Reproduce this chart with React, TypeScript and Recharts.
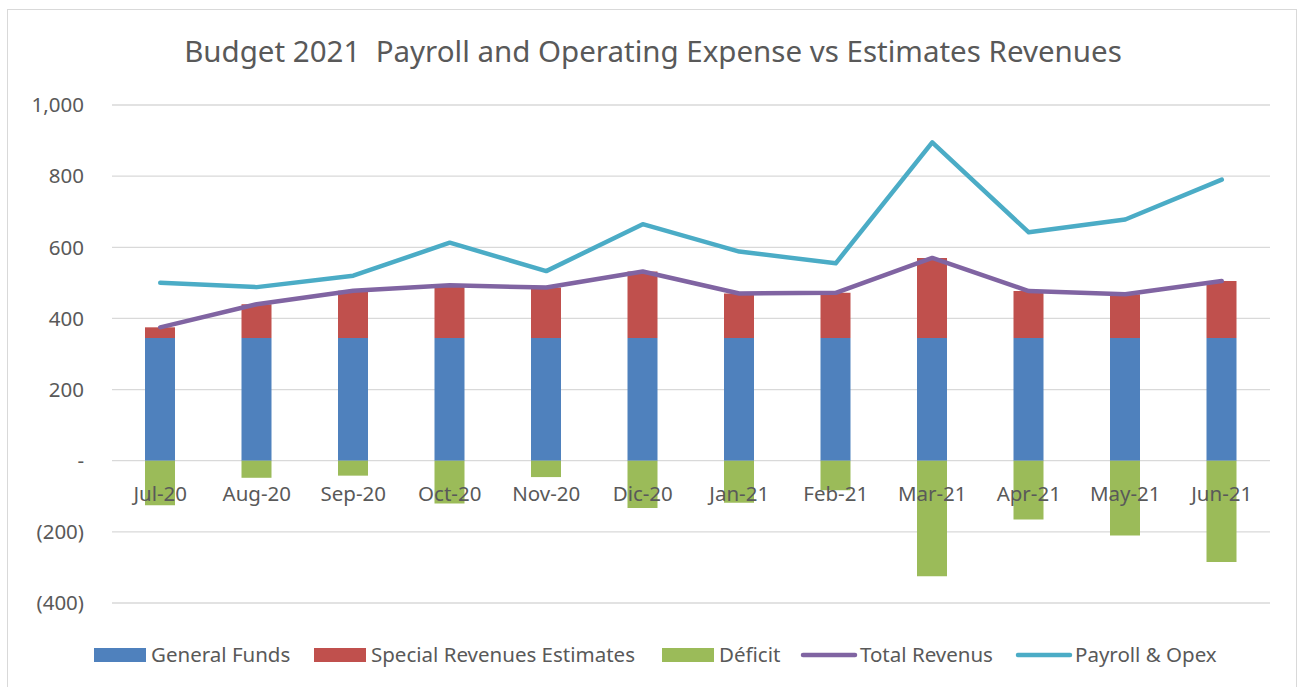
import React from "react";
import {
  ComposedChart,
  Bar,
  Line,
  XAxis,
  YAxis,
  CartesianGrid,
  Legend,
} from "recharts";

const months = ["Jul-20", "Aug-20", "Sep-20", "Oct-20", "Nov-20", "Dic-20", "Jan-21", "Feb-21", "Mar-21", "Apr-21", "May-21", "Jun-21"];
const generalFunds = [345, 345, 345, 345, 345, 345, 345, 345, 345, 345, 345, 345];
const specialRevenues = [30, 95, 133, 148, 142, 187, 125, 127, 225, 132, 123, 160];
const totalRevenue = [375, 440, 478, 493, 487, 532, 470, 472, 570, 477, 468, 505];
const payrollOpex = [500, 488, 520, 613, 533, 665, 588, 555, 895, 642, 678, 790];
const deficit = [-125, -48, -42, -120, -46, -133, -118, -83, -325, -165, -210, -285];
const yTicks = [-400, -200, 0, 200, 400, 600, 800, 1000];
const legendOrder = ["General Funds", "Special Revenues Estimates", "Déficit", "Total Revenus", "Payroll & Opex"];

const data = months.map((m, i) => ({
  month: m,
  general: generalFunds[i],
  special: specialRevenues[i],
  deficit: deficit[i],
  total: totalRevenue[i],
  payroll: payrollOpex[i],
}));

const FONT = "'Noto Sans', 'Open Sans', sans-serif";
const TEXT = "#595959";
const FS = 20.5;

const fmtY = (v: number) => {
  if (v === 0) return "-";
  const s = Math.abs(v).toLocaleString("en-US");
  return v < 0 ? `(${s})` : s;
};

const CatTick = (props: any) => {
  const { x, y, payload } = props;
  return (
    <text x={x} y={y - 118} textAnchor="middle" dominantBaseline="central" fill={TEXT} fontSize={FS} fontFamily={FONT}>
      {payload.value}
    </text>
  );
};

const LegendContent = (props: any) => {
  const payload = [...(props.payload || [])].sort(
    (a: any, b: any) => legendOrder.indexOf(a.value) - legendOrder.indexOf(b.value)
  );
  const widths = [220, 348, 139, 215, 200];
  let x = 94;
  return (
    <svg width={1300} height={70} style={{ display: "block" }}>
      {payload.map((p: any, i: number) => {
        const isLine = p.type === "line";
        const startX = x;
        x += widths[i] ?? 200;
        const cy = 50;
        return (
          <g key={p.value}>
            {isLine ? (
              <line x1={startX + 2} x2={startX + 54} y1={cy} y2={cy} stroke={p.color} strokeWidth={4.5} strokeLinecap="round" />
            ) : (
              <rect x={startX} y={cy - 7} width={52} height={14} fill={p.color} />
            )}
            <text x={startX + (isLine ? 59 : 57)} y={cy - 1} dominantBaseline="central" fill={TEXT} fontSize={FS} fontFamily={FONT}>
              {p.value}
            </text>
          </g>
        );
      })}
    </svg>
  );
};

export default function App() {
  return (
    <div style={{ position: "absolute", left: 0, top: 0, width: 1300, height: 687, background: "#fff", overflow: "hidden" }}>
      <div
        style={{
          position: "absolute",
          left: 7,
          top: 9,
          width: 1290,
          height: 690,
          border: "1px solid #D9D9D9",
          boxSizing: "border-box",
        }}
      />
      <div
        style={{
          position: "absolute",
          left: 0,
          top: 30,
          width: 1306,
          textAlign: "center",
          fontFamily: FONT,
          fontSize: 29.5,
          color: TEXT,
          whiteSpace: "pre",
        }}
      >
        {"Budget 2021  Payroll and Operating Expense vs Estimates Revenues"}
      </div>
      <div style={{ position: "absolute", left: 0, top: 0 }}>
        <ComposedChart
          width={1300}
          height={687}
          data={data}
          stackOffset="sign"
          margin={{ top: 105, right: 30, left: 12, bottom: 0 }}
        >
          <CartesianGrid vertical={false} stroke="#D9D9D9" strokeWidth={1.3} />
          <XAxis
            dataKey="month"
            axisLine={false}
            tickLine={false}
            tick={<CatTick />}
            height={2}
            interval={0}
          />
          <YAxis
            width={100}
            domain={[-400, 1000]}
            ticks={yTicks}
            tickFormatter={fmtY}
            axisLine={false}
            tickLine={false}
            tick={{ fill: TEXT, fontSize: FS, fontFamily: FONT }}
            tickMargin={22}
          />
          <Legend
            verticalAlign="bottom"
            height={82}
            content={<LegendContent />}
            wrapperStyle={{ left: 0, bottom: 0, width: 1300, height: 82 }}
          />
          <Bar dataKey="general" name="General Funds" stackId="a" fill="#4F81BD" barSize={30} isAnimationActive={false} legendType="rect" />
          <Bar dataKey="special" name="Special Revenues Estimates" stackId="a" fill="#C0504D" barSize={30} isAnimationActive={false} legendType="rect" />
          <Bar dataKey="deficit" name="Déficit" stackId="a" fill="#9BBB59" barSize={30} isAnimationActive={false} legendType="rect" />
          <Line dataKey="total" name="Total Revenus" stroke="#8064A2" strokeWidth={4.5} dot={false} strokeLinecap="round" strokeLinejoin="round" isAnimationActive={false} legendType="line" />
          <Line dataKey="payroll" name="Payroll & Opex" stroke="#4BACC6" strokeWidth={4.5} dot={false} strokeLinecap="round" strokeLinejoin="round" isAnimationActive={false} legendType="line" />
        </ComposedChart>
      </div>
    </div>
  );
}
